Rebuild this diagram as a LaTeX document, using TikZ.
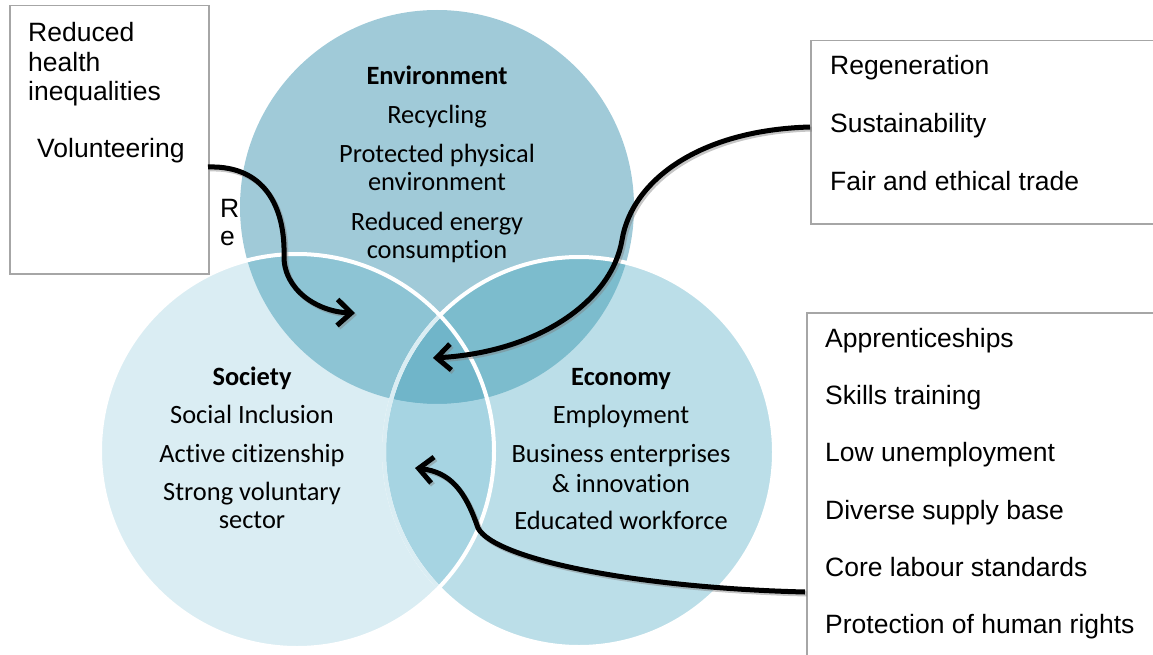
\documentclass[tikz,border=0pt]{standalone}
\usepackage{fontspec}
\setmainfont[Ligatures=NoCommon,RawFeature=-liga]{Carlito}
\newfontfamily\arialf{Liberation Sans}
\usetikzlibrary{arrows.meta}
\definecolor{cE}{HTML}{A0CAD8}
\definecolor{cS}{HTML}{DAEDF3}
\definecolor{cC}{HTML}{BBDEE8}
\definecolor{cES}{HTML}{8DC4D4}
\definecolor{cEC}{HTML}{7CBCCD}
\definecolor{cSC}{HTML}{A6D4E2}
\definecolor{cESC}{HTML}{70B5C9}
\definecolor{boxgray}{HTML}{A6A6A6}
\begin{document}
\begin{tikzpicture}[x=1pt,y=-1pt,
  boxtxt/.style={anchor=base west, font=\arialf\fontsize{26.5}{30}\selectfont, inner sep=0pt},
  ctxt/.style={anchor=base, font=\fontsize{26.4}{30}\selectfont, inner sep=0pt},
  chead/.style={ctxt, font=\bfseries\fontsize{26.4}{30}\selectfont},
  sidebox/.style={draw=boxgray, line width=1.5pt, fill=white, anchor=north west, inner sep=0pt},
  arr/.style={line width=5pt, -{Straight Barb[length=14pt,width=26pt]},
    preaction={draw=black!50, opacity=0.45, line width=5pt, transform canvas={xshift=1.8pt,yshift=-2pt}}},
  circout/.style={draw=white, line width=4pt}]
\useasboundingbox (0,0) rectangle (1153,655);
\clip (0,0) rectangle (1153,655);
% stray clipped text
\node[boxtxt] (strayR) at (220,217) {R};
\node[boxtxt] (straye) at (220,245) {e};
% circles
\fill[cE] (437,207) circle[radius=197];
\fill[cS] (297,451) circle[radius=197];
\fill[cC] (579,452) circle[radius=195];
\begin{scope}
  \clip (437,207) circle[radius=197];
  \fill[cES] (297,451) circle[radius=197];
  \fill[cEC] (579,452) circle[radius=195];
  \clip (297,451) circle[radius=197];
  \fill[cESC] (579,452) circle[radius=195];
\end{scope}
% society-economy overlap outside environment
\begin{scope}
  \clip (297,451) circle[radius=197];
  \clip (579,452) circle[radius=195];
  \fill[cSC, even odd rule] (0,0) rectangle (1153,655) (437,207) circle[radius=197];
\end{scope}
% outlines
\draw[circout] (297,451) circle[radius=197];
\draw[circout] (579,452) circle[radius=195];
\begin{scope}
  \clip (297,451) circle[radius=195];
  \draw[draw=cS, line width=4pt] (579,452) circle[radius=195];
\end{scope}
% circle texts
\node[chead] (envh) at (437,85) {Environment};
\node[ctxt] (env1) at (437,124) {Recycling};
\node[ctxt] (env2) at (437,163) {Protected physical};
\node[ctxt] (env3) at (437,190) {environment};
\node[ctxt] (env4) at (437,230) {Reduced energy};
\node[ctxt] (env5) at (437,258) {consumption};
\node[chead] (soch) at (252,385) {Society};
\node[ctxt] (soc1) at (252,423) {Social Inclusion};
\node[ctxt] (soc2) at (252,462) {Active citizenship};
\node[ctxt] (soc3) at (252,500) {Strong voluntary};
\node[ctxt] (soc4) at (252,528) {sector};
\node[chead] (ecoh) at (621,385) {Economy};
\node[ctxt] (eco1) at (621,423) {Employment};
\node[ctxt] (eco2) at (621,462) {Business enterprises};
\node[ctxt] (eco3) at (621,492) {\& innovation};
\node[ctxt] (eco4) at (621,529) {Educated workforce};
% side boxes
\node[sidebox, minimum width=199pt, minimum height=268pt] (lbox) at (9,5) {};
\node[sidebox, minimum width=360pt, minimum height=183pt] (trbox) at (810,40) {};
\node[sidebox, minimum width=360pt, minimum height=360pt] (brbox) at (806,312) {};
\node[boxtxt] (l1) at (28,42) {Reduced};
\node[boxtxt] (l2) at (28,71.5) {health};
\node[boxtxt] (l3) at (28,101) {inequalities};
\node[boxtxt] (l4) at (37,158) {Volunteering};
\node[boxtxt] (t1) at (830,75) {Regeneration};
\node[boxtxt] (t2) at (830,133) {Sustainability};
\node[boxtxt] (t3) at (830,190) {Fair and ethical trade};
\node[boxtxt] (b1) at (825,347) {Apprenticeships};
\node[boxtxt] (b2) at (825,404) {Skills training};
\node[boxtxt] (b3) at (825,461) {Low unemployment};
\node[boxtxt] (b4) at (825,519) {Diverse supply base};
\node[boxtxt] (b5) at (825,576) {Core labour standards};
\node[boxtxt] (b6) at (825,633) {Protection of human rights};
% arrow endpoints
\coordinate (a1s) at (208,167);
\coordinate (a1e) at (355,313);
\coordinate (a2s) at (810,127);
\coordinate (a2e) at (433,358);
\coordinate (a3s) at (805,592);
\coordinate (a3e) at (415,468);
\draw[arr] (a1s) .. controls (270,165) and (285,215) .. (284,255) .. controls (283,290) and (318,312) .. (a1e);
\draw[arr] (a2s) .. controls (700,130) and (632,180) .. (622,240) .. controls (612,300) and (540,352) .. (a2e);
\draw[arr] (a3s) .. controls (640,588) and (495,560) .. (478,528) .. controls (465,490) and (450,472) .. (a3e);
\end{tikzpicture}
\end{document}
